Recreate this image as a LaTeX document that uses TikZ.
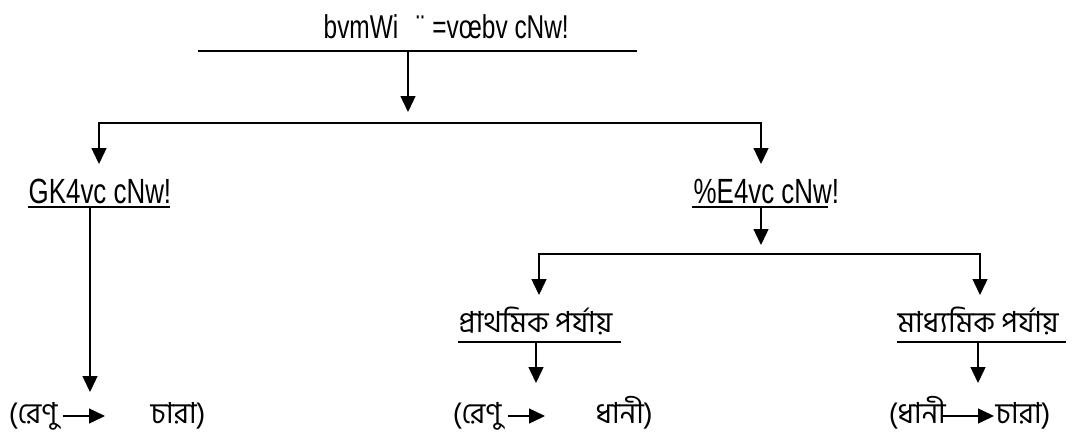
\documentclass[tikz,border=0pt]{standalone}
\usepackage{fontspec}
\setmainfont[FakeStretch=0.74]{Liberation Sans}
\newfontfamily\bn[Script=Bengali]{Hind Siliguri}
\usetikzlibrary{arrows.meta}
\begin{document}
\begin{tikzpicture}[x=1pt,y=-1pt,line width=1.4pt,
  arr/.style={-{Triangle[length=16pt,width=15pt]}},
  lat/.style={font=\fontsize{35}{38}\selectfont,inner sep=0pt,anchor=base west},
  lattop/.style={font=\fontsize{33}{36}\selectfont,inner sep=0pt,anchor=base west},
  ben/.style={font=\bn\fontsize{29}{32}\selectfont,inner sep=0pt,anchor=base west}]
\useasboundingbox (0,0) rectangle (1073,439);
% texts
\node[lattop] (top) at (323,38) {bvmWi\hspace{18pt}¨\hspace{8pt}=vœbv cNw!};
\node[lat] (left) at (28,203) {GK4vc cNw!};
\node[lat] (right) at (693,203) {\%E4vc cNw!};
\node[ben] (prim) at (458,332) {প্রাথমিক পর্যায়};
\node[ben] (sec) at (897,332) {মাধ্যমিক পর্যায়};
\node[ben] (r1) at (8,423) {(রেণু};
\node[ben] (c1) at (150,423) {চারা)};
\node[ben] (r2) at (452,423) {(রেণু};
\node[ben] (d2) at (595,423) {ধানী)};
\node[ben] (d3) at (888,423) {(ধানী};
\node[ben] (c3) at (995,423) {চারা)};
% coordinates
\coordinate (tl) at (198,51); \coordinate (tr) at (637,51);
\coordinate (t0) at (408,51); \coordinate (t1) at (408,112);
\coordinate (h1) at (430,123);
\coordinate (la) at (99,164); \coordinate (ra) at (761,164);
\coordinate (ll) at (28,207); \coordinate (lr) at (170,207);
\coordinate (l0) at (90,207); \coordinate (l1) at (90,392);
\coordinate (rl) at (692,207); \coordinate (rr) at (828,207);
\coordinate (r0) at (761,207); \coordinate (r1a) at (761,245);
\coordinate (h2) at (760,254);
\coordinate (pa) at (539,295); \coordinate (sa) at (980,295);
\coordinate (pl) at (458,342); \coordinate (pr) at (621,342);
\coordinate (sl) at (897,342); \coordinate (sr) at (1066,342);
\coordinate (p0) at (536,342); \coordinate (p1) at (536,383);
\coordinate (s0) at (978,342); \coordinate (s1) at (978,383);
\coordinate (b1s) at (63,416); \coordinate (b1e) at (105,416);
\coordinate (b2s) at (508,416); \coordinate (b2e) at (545,416);
\coordinate (b3s) at (941,416); \coordinate (b3e) at (994,416);
% lines
\draw (tl) -- (tr);
\draw[arr] (t0) -- (t1);
\draw[arr] (h1) -| (la);
\draw[arr] (h1) -| (ra);
\draw (ll) -- (lr);
\draw[arr] (l0) -- (l1);
\draw (rl) -- (rr);
\draw[arr] (r0) -- (r1a);
\draw[arr] (h2) -| (pa);
\draw[arr] (h2) -| (sa);
\draw (pl) -- (pr);
\draw (sl) -- (sr);
\draw[arr] (p0) -- (p1);
\draw[arr] (s0) -- (s1);
\draw[arr] (b1s) -- (b1e);
\draw[arr] (b2s) -- (b2e);
\draw[arr] (b3s) -- (b3e);
\end{tikzpicture}
\end{document}
